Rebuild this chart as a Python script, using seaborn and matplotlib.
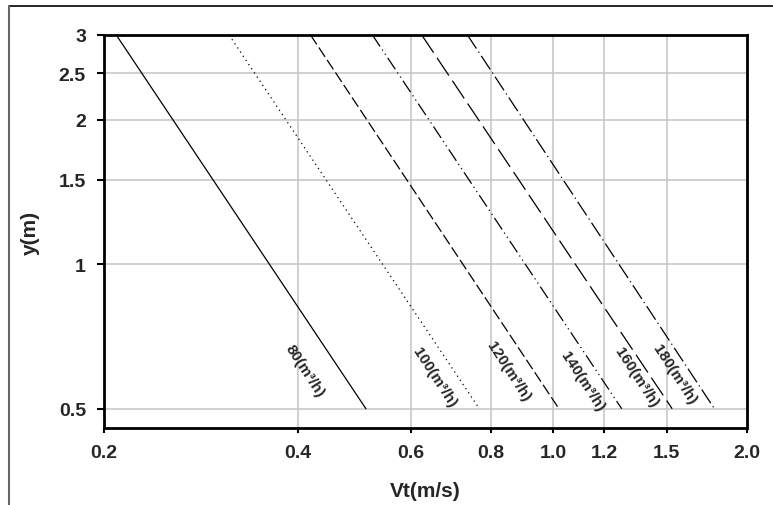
import numpy as np
import pandas as pd
import matplotlib
matplotlib.use("Agg")
import matplotlib.pyplot as plt
import seaborn as sns
from matplotlib.lines import Line2D

# Portate (m3/h) e velocita' lette agli estremi y=3 e y=0.5
flows = [80, 100, 120, 140, 160, 180]
v_top = [0.209, 0.313, 0.419, 0.523, 0.624, 0.735]
v_bottom = [0.511, 0.767, 1.020, 1.277, 1.530, 1.780]
y_top = 3.0
y_bottom = 0.5

# posizioni delle etichette (dati)
label_v = [0.411, 0.652, 0.850, 1.108, 1.344, 1.540]
label_y = [0.602, 0.584, 0.600, 0.572, 0.584, 0.590]

x_ticks = [0.2, 0.4, 0.6, 0.8, 1.0, 1.2, 1.5, 2.0]
x_ticklabels = ['0.2', '0.4', '0.6', '0.8', '1.0', '1.2', '1.5', '2.0']
y_ticks = [0.5, 1, 1.5, 2, 2.5, 3]
y_ticklabels = ['0.5', '1', '1.5', '2', '2.5', '3']

rows = []
for q, vt, vb in zip(flows, v_top, v_bottom):
    rows.append({'Q': f'{q}', 'Vt': vt, 'y': y_top})
    rows.append({'Q': f'{q}', 'Vt': vb, 'y': y_bottom})
df = pd.DataFrame(rows)

dashes = {
    '80': '',
    '100': (1, 3),
    '120': (9, 3),
    '140': (11, 3, 1, 3, 1, 3),
    '160': (17, 5),
    '180': (13, 3, 1, 3),
}

sns.set_style("white")
plt.rcParams['font.family'] = ['Liberation Sans', 'DejaVu Sans']
plt.rcParams['font.weight'] = 'bold'

fig = plt.figure(figsize=(7.73, 5.06), dpi=100)
ax = fig.add_axes([104/773, 1-429/506, (747-104)/773, (429-36)/506])

sns.lineplot(data=df, x='Vt', y='y', hue='Q', style='Q',
             palette=['black']*6, dashes=dashes, linewidth=0.9,
             legend=False, sort=False, estimator=None, ax=ax)

ax.set_xscale('log')
ax.set_yscale('log')
ax.set_xlim(0.2, 2.0)
ax.set_ylim(0.456, 3.0)

ax.set_xticks(x_ticks)
ax.set_xticklabels(x_ticklabels)
ax.set_yticks(y_ticks)
ax.set_yticklabels(y_ticklabels)
ax.xaxis.set_minor_locator(matplotlib.ticker.NullLocator())
ax.yaxis.set_minor_locator(matplotlib.ticker.NullLocator())

ax.grid(True, color='#c8c8c8', linewidth=1.2)
ax.set_axisbelow(True)
ax.tick_params(axis='both', which='major', direction='out', width=1.5,
               color='black', pad=8, labelsize=14, bottom=True, left=True)
ax.tick_params(axis='x', length=3.5)
ax.tick_params(axis='y', length=5)
for lab in ax.get_xticklabels() + ax.get_yticklabels():
    lab.set_fontweight('bold')

for sp in ax.spines.values():
    sp.set_color('black')
    sp.set_linewidth(2)

ax.set_xlabel('Vt(m/s)', fontsize=15, fontweight='bold')
ax.set_ylabel('y(m)', fontsize=15, fontweight='bold')
ax.xaxis.set_label_coords(0.5, -0.135)
ax.yaxis.set_label_coords(-0.100, 0.5)

for q, lv, ly in zip(flows, label_v, label_y):
    ax.text(lv, ly, f'{q}(m³/h)', rotation=-57, rotation_mode='anchor',
            ha='center', va='center', fontsize=11, fontweight='bold')

# cornice esterna del grafico
fig.add_artist(Line2D([9/773, 1.0], [1-7/506, 1-7/506], color='black', linewidth=1.2))
fig.add_artist(Line2D([9/773, 9/773], [0, 1-7/506], color='#666666', linewidth=1.5))

fig.savefig('out.png', dpi=100)
